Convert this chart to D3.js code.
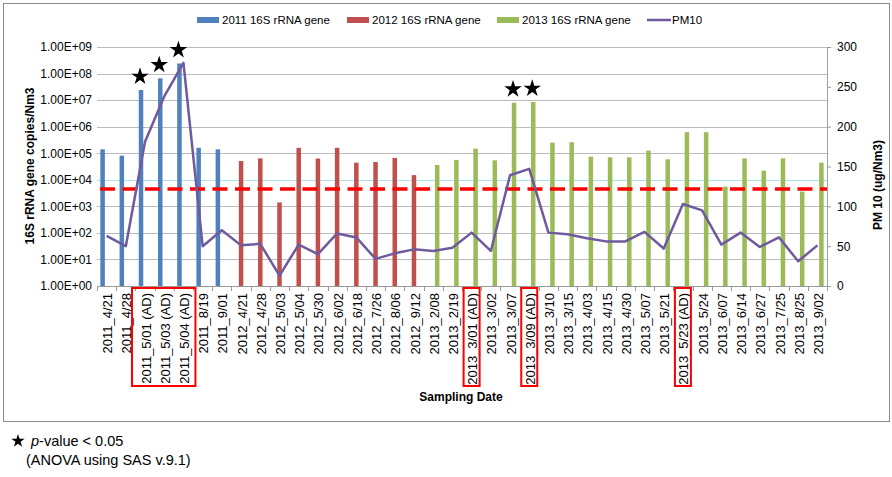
<!DOCTYPE html>
<html>
<head>
<meta charset="utf-8">
<script src="https://cdn.jsdelivr.net/npm/d3@7"></script>
<style>
  html, body { margin: 0; padding: 0; background: #fff; }
  svg { display: block; font-family: "Liberation Sans", Arial, sans-serif; }
</style>
</head>
<body>
<svg id="chart" width="892" height="477"></svg>
<script>
// ---------------- DATA ----------------
const categories2011 = ["2011_4/21","2011_4/28","2011_5/01 (AD)","2011_5/03 (AD)","2011_5/04 (AD)","2011_8/19","2011_9/01"];
const values2011 = [1.4e5, 8.1e4, 2.4e7, 6.6e7, 2.4e8, 1.6e5, 1.4e5];

const categories2012 = ["2012_4/21","2012_4/28","2012_5/03","2012_5/04","2012_5/30","2012_6/02","2012_6/18","2012_7/26","2012_8/06","2012_9/12"];
const values2012 = [5.1e4, 6.4e4, 1.4e3, 1.6e5, 6.3e4, 1.6e5, 4.4e4, 4.7e4, 6.6e4, 1.5e4];

const categories2013 = ["2013_2/08","2013_2/19","2013_3/01 (AD)","2013_3/02","2013_3/07","2013_3/09 (AD)","2013_3/10","2013_3/15","2013_4/03","2013_4/15","2013_4/30","2013_5/07","2013_5/21","2013_5/23 (AD)","2013_5/24","2013_6/07","2013_6/14","2013_6/27","2013_7/25","2013_8/25","2013_9/02"];
const values2013 = [3.6e4, 5.6e4, 1.5e5, 5.4e4, 8.0e6, 8.5e6, 2.5e5, 2.6e5, 7.4e4, 7.0e4, 7.0e4, 1.25e5, 5.9e4, 6.2e5, 6.2e5, 5.5e3, 6.4e4, 2.2e4, 6.4e4, 3.6e3, 4.4e4];

const pm10 = [63, 50, 181, 238, 280, 50, 70,
              51, 53, 13, 52, 40, 66, 61, 34, 41, 46,
              44, 48, 67, 44, 139, 147, 67, 65, 60, 56, 56, 68, 47, 103, 95, 52, 67, 49, 61, 31, 51];

const threshold = 4.5e3;

const seriesNames = ["2011 16S rRNA gene", "2012 16S rRNA gene", "2013 16S rRNA gene", "PM10"];
const seriesColors = ["#4F81BD", "#C0504D", "#9BBB59", "#6F5A9E"];

const leftTicks = [1e0, 1e1, 1e2, 1e3, 1e4, 1e5, 1e6, 1e7, 1e8, 1e9];
const rightTicks = [0, 50, 100, 150, 200, 250, 300];

const starCategories = ["2011_5/01 (AD)", "2011_5/03 (AD)", "2011_5/04 (AD)", "2013_3/07", "2013_3/09 (AD)"];
const boxedGroups = [["2011_5/01 (AD)", "2011_5/04 (AD)"], ["2013_3/01 (AD)", "2013_3/01 (AD)"], ["2013_3/09 (AD)", "2013_3/09 (AD)"], ["2013_5/23 (AD)", "2013_5/23 (AD)"]];

// ---------------- BUILD ----------------
const categories = categories2011.concat(categories2012, categories2013);
const bars = [];
categories2011.forEach((c, i) => bars.push({cat: c, s: 0, v: values2011[i]}));
categories2012.forEach((c, i) => bars.push({cat: c, s: 1, v: values2012[i]}));
categories2013.forEach((c, i) => bars.push({cat: c, s: 2, v: values2013[i]}));

const L = 97, R = 827, T = 47, B = 286;
const svg = d3.select("#chart");

// outer frame
svg.append("rect").attr("x", 3.5).attr("y", 3.5).attr("width", 886).attr("height", 418)
  .attr("fill", "#fff").attr("stroke", "#8a8a8a").attr("stroke-width", 1);

const x = d3.scaleBand().domain(categories).range([L, R]).padding(0);
const bw = x.bandwidth();
const x1 = d3.scaleBand().domain([0, 1, 2]).range([bw / 2 - 6, bw / 2 + 6]).padding(0);
const yL = d3.scaleLog().domain([1, 1e9]).range([B, T]);
const yR = d3.scaleLinear().domain([0, 300]).range([B, T]);

// gridlines
svg.append("g").selectAll("line").data(leftTicks.slice(1)).join("line")
  .attr("x1", L).attr("x2", R)
  .attr("y1", d => Math.round(yL(d)) + 0.5).attr("y2", d => Math.round(yL(d)) + 0.5)
  .attr("stroke", d => d === 1e4 ? "#a6e3ea" : "#bcbcbc").attr("stroke-width", 1.2);

// left axis
const fmtE = d => "1.00E+" + String(Math.round(Math.log10(d))).padStart(2, "0");
const gL = svg.append("g").attr("transform", `translate(${L},0)`)
  .call(d3.axisLeft(yL).tickValues(leftTicks).tickFormat(fmtE).tickSize(0).tickPadding(5));
gL.select(".domain").remove();
gL.selectAll("text").attr("font-size", 12).attr("fill", "#000").attr("font-family", "Liberation Sans, Arial");

// right axis
const gR = svg.append("g").attr("transform", `translate(${R},0)`)
  .call(d3.axisRight(yR).tickValues(rightTicks).tickSize(4).tickPadding(6));
gR.select(".domain").attr("stroke", "#9aa0b8");
gR.selectAll("line").attr("stroke", "#9a9a9a");
gR.selectAll("text").attr("font-size", 12).attr("fill", "#000").attr("font-family", "Liberation Sans, Arial");

// bottom axis line and ticks between categories
svg.append("line").attr("x1", L).attr("x2", R).attr("y1", B + 0.5).attr("y2", B + 0.5).attr("stroke", "#9a9a9a");
svg.append("g").selectAll("line").data(categories.concat(["__end"])).join("line")
  .attr("x1", (d, i) => Math.round(L + i * bw) + 0.5).attr("x2", (d, i) => Math.round(L + i * bw) + 0.5)
  .attr("y1", B).attr("y2", B + 5).attr("stroke", "#9a9a9a");

// bars
svg.append("g").selectAll("rect").data(bars).join("rect")
  .attr("x", d => x(d.cat) + x1(d.s) + x1.bandwidth() / 2 - 2.25)
  .attr("width", 4.5)
  .attr("y", d => yL(d.v))
  .attr("height", d => B - yL(d.v))
  .attr("fill", d => seriesColors[d.s]);

// threshold dashed line
svg.append("line").attr("x1", L + 3).attr("x2", R).attr("y1", yL(threshold)).attr("y2", yL(threshold))
  .attr("stroke", "#FF0000").attr("stroke-width", 3.5).attr("stroke-dasharray", "15,7.5");

// PM10 line
const line = d3.line().x((d, i) => x(categories[i]) + bw / 2).y(d => yR(d));
svg.append("path").datum(pm10).attr("d", line)
  .attr("fill", "none").attr("stroke", seriesColors[3]).attr("stroke-width", 2.5).attr("stroke-linejoin", "round");

// stars
const starSym = d3.symbol().type(d3.symbolStar).size(95);
svg.append("g").selectAll("path").data(bars.filter(b => starCategories.includes(b.cat))).join("path")
  .attr("d", starSym)
  .attr("transform", d => `translate(${x(d.cat) + x1(d.s) + x1.bandwidth() / 2 - 1},${yL(d.v) - 13.5})`)
  .attr("fill", "#000");

// x labels
svg.append("g").selectAll("text").data(categories).join("text")
  .attr("transform", d => `translate(${x(d) + bw / 2 + 1},293) rotate(-90)`)
  .attr("text-anchor", "end").attr("dy", "0.35em")
  .attr("font-size", 13).attr("fill", "#000").text(d => d);

// red boxes around AD labels
svg.append("g").selectAll("rect").data(boxedGroups).join("rect")
  .attr("x", g => x(g[0]) + bw / 2 - (g[0] === g[1] ? 8 : 13))
  .attr("width", g => (x(g[1]) - x(g[0])) + (g[0] === g[1] ? 16 : 25))
  .attr("y", 288).attr("height", 98)
  .attr("fill", "none").attr("stroke", "#FF0000").attr("stroke-width", 2);

// axis titles
svg.append("text").attr("transform", "translate(34,166) rotate(-90)").attr("text-anchor", "middle")
  .attr("font-size", 12).attr("font-weight", "bold").text("16S rRNA gene copies/Nm3");
svg.append("text").attr("transform", "translate(882,185) rotate(-90)").attr("text-anchor", "middle")
  .attr("font-size", 12).attr("font-weight", "bold").text("PM 10 (ug/Nm3)");
svg.append("text").attr("x", 461).attr("y", 401).attr("text-anchor", "middle")
  .attr("font-size", 12).attr("font-weight", "bold").text("Sampling Date");

// legend
const legendX = [197, 347, 497, 647];
const lg = svg.append("g").selectAll("g").data(seriesNames).join("g")
  .attr("transform", (d, i) => `translate(${legendX[i]},20)`);
lg.each(function (d, i) {
  const g = d3.select(this);
  if (i < 3) {
    g.append("rect").attr("x", 0).attr("y", -3).attr("width", 22).attr("height", 6).attr("fill", seriesColors[i]);
  } else {
    g.append("line").attr("x1", 0).attr("x2", 24).attr("y1", 0).attr("y2", 0)
      .attr("stroke", seriesColors[3]).attr("stroke-width", 2.5);
  }
  g.append("text").attr("x", i < 3 ? 25 : 25).attr("y", 0).attr("dy", "0.35em")
    .attr("font-size", 11.5).attr("fill", "#000").text(d);
});

// footnote
svg.append("path").attr("d", d3.symbol().type(d3.symbolStar).size(55))
  .attr("transform", "translate(18,441)").attr("fill", "#000");
const fn = svg.append("text").attr("x", 31).attr("y", 446).attr("font-size", 14.5).attr("fill", "#000");
fn.append("tspan").attr("font-style", "italic").text("p");
fn.append("tspan").text("-value < 0.05");
svg.append("text").attr("x", 26).attr("y", 465).attr("font-size", 14.5).attr("fill", "#000")
  .text("(ANOVA using SAS v.9.1)");
</script>
</body>
</html>
